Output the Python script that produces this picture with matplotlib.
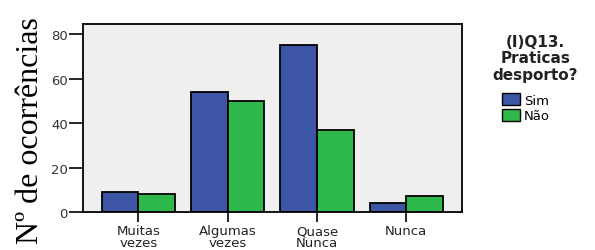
import numpy as np
import matplotlib.pyplot as plt
from matplotlib.patches import Patch

# data
categories = ['Muitas\nvezes', 'Algumas\nvezes', 'Quase\nNunca', 'Nunca']
sim = [9, 54, 75, 4]
nao = [8, 50, 37, 7]
series_names = ['Sim', 'Não']
yticks = [0, 20, 40, 60, 80]

blue = '#3c55a5'
green = '#2fb84b'

fig = plt.figure(figsize=(5.95, 2.51), dpi=100)
ax = fig.add_axes([0.1395, 0.1514, 0.6365, 0.749])
ax.set_facecolor('#efefef')

x = np.arange(len(categories))
w = 0.41
ax.bar(x - w / 2, sim, w, color=blue, edgecolor='black', linewidth=1.3)
ax.bar(x + w / 2, nao, w, color=green, edgecolor='black', linewidth=1.3)

ax.set_xlim(-0.62, 3.62)
ax.set_ylim(0, 84.5)
ax.set_yticks(yticks)
ax.set_xticks(x)
ax.set_xticklabels(categories, fontsize=9.5, linespacing=0.9, color='#222222')
ax.tick_params(axis='y', labelsize=9.5, labelcolor='#333333', length=10, width=1.2, pad=1)
ax.tick_params(axis='x', length=7, width=1.2, pad=2)
for s in ax.spines.values():
    s.set_linewidth(1.3)

ax.set_ylabel('Nº de ocorrências', family='Liberation Serif', fontsize=23)
ax.yaxis.set_label_coords(-0.10, 0.44)

# legend
handles = [Patch(facecolor=blue, edgecolor='black'),
           Patch(facecolor=green, edgecolor='black')]
fig.text(0.9, 0.765, '(I)Q13.\nPraticas\ndesporto?', ha='center', va='center',
         fontsize=11, fontweight='bold', linespacing=1.1, color='#222222')
fig.legend(handles, series_names, loc='upper left', bbox_to_anchor=(0.832, 0.65),
           frameon=False, fontsize=9.5, handlelength=1.4, handleheight=1.0,
           handletextpad=0.3, labelspacing=0.15, borderpad=0)

plt.savefig('out.png', dpi=100)
